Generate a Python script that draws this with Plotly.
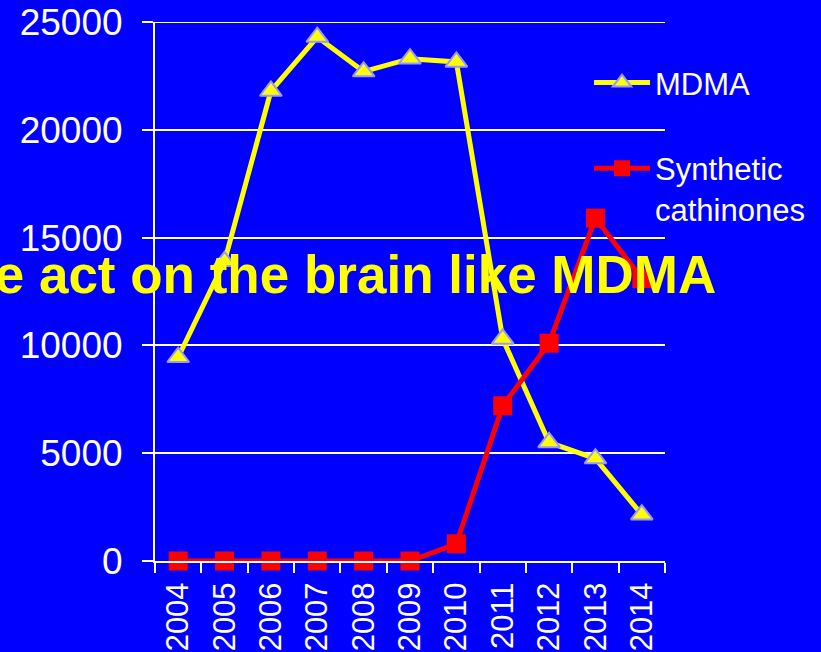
import plotly.graph_objects as go

years = ["2004", "2005", "2006", "2007", "2008", "2009", "2010", "2011", "2012", "2013", "2014"]
mdma = [9450, 13900, 21800, 24300, 22700, 23300, 23150, 10300, 5500, 4750, 2150]
cathinones = [0, 0, 0, 0, 0, 0, 800, 7200, 10100, 15900, 13100]
y_ticks = [0, 5000, 10000, 15000, 20000, 25000]
y_max = 25000

FONT = "Liberation Sans, Arial, sans-serif"
BLUE = "#0000FF"

fig = go.Figure()
fig.add_trace(go.Scatter(
    x=years, y=mdma, name="MDMA", mode="lines+markers",
    line=dict(color="#FFFF00", width=5),
    marker=dict(symbol="triangle-up", size=19, color="#FFFF00",
                line=dict(color="#9999FF", width=2)),
    legend="legend", showlegend=True, cliponaxis=False,
))
fig.add_trace(go.Scatter(
    x=years, y=cathinones, name="Synthetic<br>cathinones", mode="lines+markers",
    line=dict(color="#FF0000", width=5),
    marker=dict(symbol="square", size=19, color="#FF0000",
                line=dict(color="#FF0000", width=0)),
    legend="legend2", showlegend=True, cliponaxis=False,
))

# top gridline (plotly hides the one on the plot edge)
fig.add_shape(type="line", xref="paper", yref="y", x0=-0.022, x1=1,
              y0=y_max, y1=y_max, line=dict(color="white", width=2), layer="below")

fig.add_annotation(
    text="<b>These act on the brain like MDMA</b>",
    xref="paper", yref="paper", x=1.103, y=0.531,
    xanchor="right", yanchor="middle", showarrow=False,
    font=dict(family=FONT, size=53, color="#FFFF00"),
)

fig.update_layout(
    width=821, height=652, showlegend=True,
    margin=dict(l=155, r=156, t=22, b=91, autoexpand=False),
    paper_bgcolor=BLUE, plot_bgcolor=BLUE,
    font=dict(family=FONT, color="white"),
    legend=dict(x=0.851, y=0.887, xanchor="left", yanchor="middle",
                bgcolor="rgba(0,0,0,0)", font=dict(size=31, color="white"),
                itemwidth=56, valign="top"),
    legend2=dict(x=0.851, y=0.778, xanchor="left", yanchor="top",
                 bgcolor="rgba(0,0,0,0)", font=dict(size=31, color="white"),
                 itemwidth=56, valign="top"),
    xaxis=dict(
        type="category", range=[-0.5, 10.5], tickangle=-90, automargin=False,
        tickson="boundaries", ticks="outside", ticklen=10, tickwidth=2,
        tickcolor="white", showline=True, linecolor="white", linewidth=2,
        showgrid=False, tickfont=dict(size=31, color="white"),
        ticklabelstandoff=7,
    ),
    yaxis=dict(
        range=[0, y_max], tickvals=y_ticks,
        ticktext=[str(v) for v in y_ticks],
        automargin=False,
        ticks="outside", ticklen=11, tickwidth=2, tickcolor="white",
        showline=True, linecolor="white", linewidth=2,
        showgrid=True, gridcolor="white", gridwidth=2, zeroline=False,
        tickfont=dict(size=37, color="white"), ticklabelstandoff=12,
    ),
)

fig.write_html(
    "out.html",
    config={"displayModeBar": False},
    post_script="document.body.style.margin='0';document.body.style.background='#0000FF';",
)
